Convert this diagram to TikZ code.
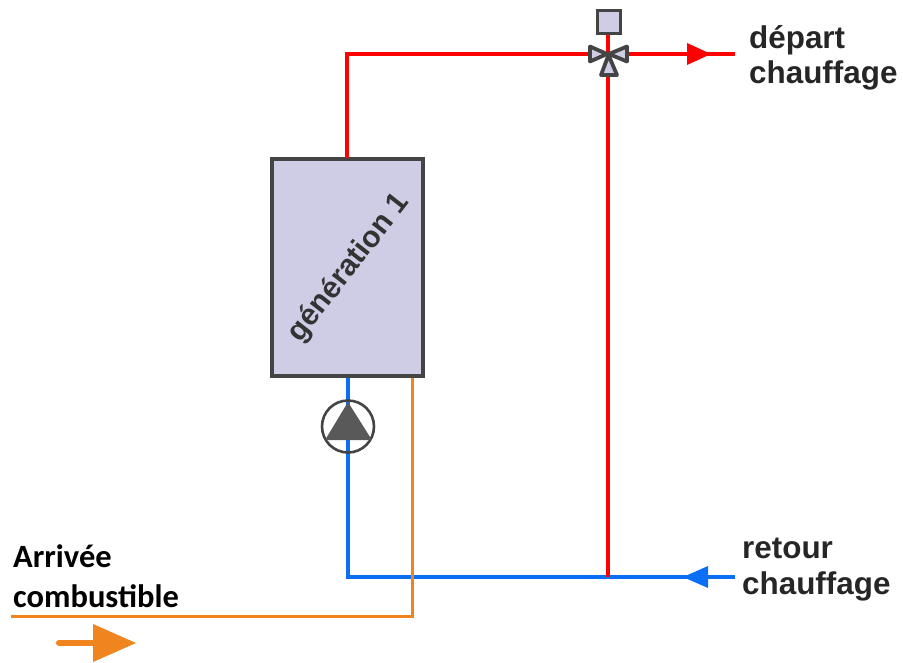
\documentclass[tikz,border=0pt]{standalone}
\usepackage{fontspec}
\setmainfont{Liberation Sans}
\newfontfamily\carl{Carlito}
\definecolor{redpipe}{HTML}{FF0000}
\definecolor{bluepipe}{HTML}{0A6FF5}
\definecolor{orangepipe}{HTML}{F0841E}
\definecolor{lilac}{HTML}{CFCDE6}
\definecolor{edgegrey}{HTML}{444444}
\definecolor{pumpgrey}{HTML}{595959}
\tikzset{x=1pt,y=-1pt,
  pipe/.style={line width=3.4pt},
  label/.style={font=\bfseries\fontsize{31.4}{35.5}\selectfont,align=left,anchor=north west,inner sep=0pt,text=black!85},
  carlabel/.style={font=\carl\bfseries\fontsize{32.5}{40}\selectfont,align=left,anchor=north west,inner sep=0pt,text=black},
  valvepart/.style={draw=edgegrey,fill=lilac,line width=3.8pt,line join=round}}
\begin{document}
\begin{tikzpicture}
\useasboundingbox (0,0) rectangle (903,662);
% boiler
\node[draw=edgegrey,fill=lilac,line width=3.4pt,minimum width=151pt,minimum height=217pt,inner sep=0pt] (gen) at (347.5,267.5) {};
\node[rotate=52,font=\bfseries\fontsize{30}{32}\selectfont,text=black!80,inner sep=0pt] (gentext) at (349,268) {génération 1};
% anchors
\coordinate (valve) at (608,54);
\coordinate (depart) at (735,54);
\coordinate (retour) at (735,577);
\coordinate (tee) at (608,577);
\coordinate (corner1) at (347,54);
\coordinate (corner2) at (348,577);
\coordinate (genout) at (347,158);
\coordinate (genin) at (348,378);
\coordinate (fuelin) at (412,378);
\coordinate (fuelcorner) at (412,616);
\coordinate (fuelend) at (11,616);
% pipes
\draw[pipe,bluepipe] (retour) -- (corner2) -- (genin);
\draw[pipe,redpipe] (genout) -- (corner1) -- (valve) -- (depart);
\draw[pipe,redpipe] (valve) -- (tee);
\draw[orangepipe,line width=3pt] (fuelin) -- (fuelcorner) -- (fuelend);
% flow arrowheads
\fill[redpipe] (687,43) -- (711,54) -- (687,65) -- cycle;
\fill[bluepipe] (708,566) -- (683,577) -- (708,588) -- cycle;
\coordinate (oa) at (59,643);
\coordinate (ob) at (100,643);
\draw[orangepipe,line width=6pt,line cap=round] (oa) -- (ob);
\fill[orangepipe] (93,624) -- (136,643) -- (93,662) -- cycle;
% pump
\node[circle,draw=edgegrey,line width=2.6pt,minimum size=52pt,inner sep=0pt] (pump) at (348,426.5) {};
\fill[pumpgrey,draw=pumpgrey,line join=round,line width=1pt] (348,403) -- (371,439.5) -- (326,439.5) -- cycle;
% valve
\draw[pipe,redpipe] (valve) -- (608,34);
\draw[valvepart] (607,54) -- (590,46.5) -- (590,61.5) -- cycle;
\draw[valvepart] (609,54) -- (627,46.5) -- (627,61.5) -- cycle;
\draw[valvepart] (608.5,55) -- (601,75) -- (617,75) -- cycle;
\node[draw=edgegrey,fill=lilac,line width=3.4pt,minimum size=23.5pt,inner sep=0pt] (act) at (609,22) {};
% labels
\node[label] (t1) at (749,25) {départ\\chauffage};
\node[label] (t2) at (742,538) {retour\\chauffage};
\node[carlabel] (t3) at (13,544) {Arrivée\\combustible};
\end{tikzpicture}
\end{document}
